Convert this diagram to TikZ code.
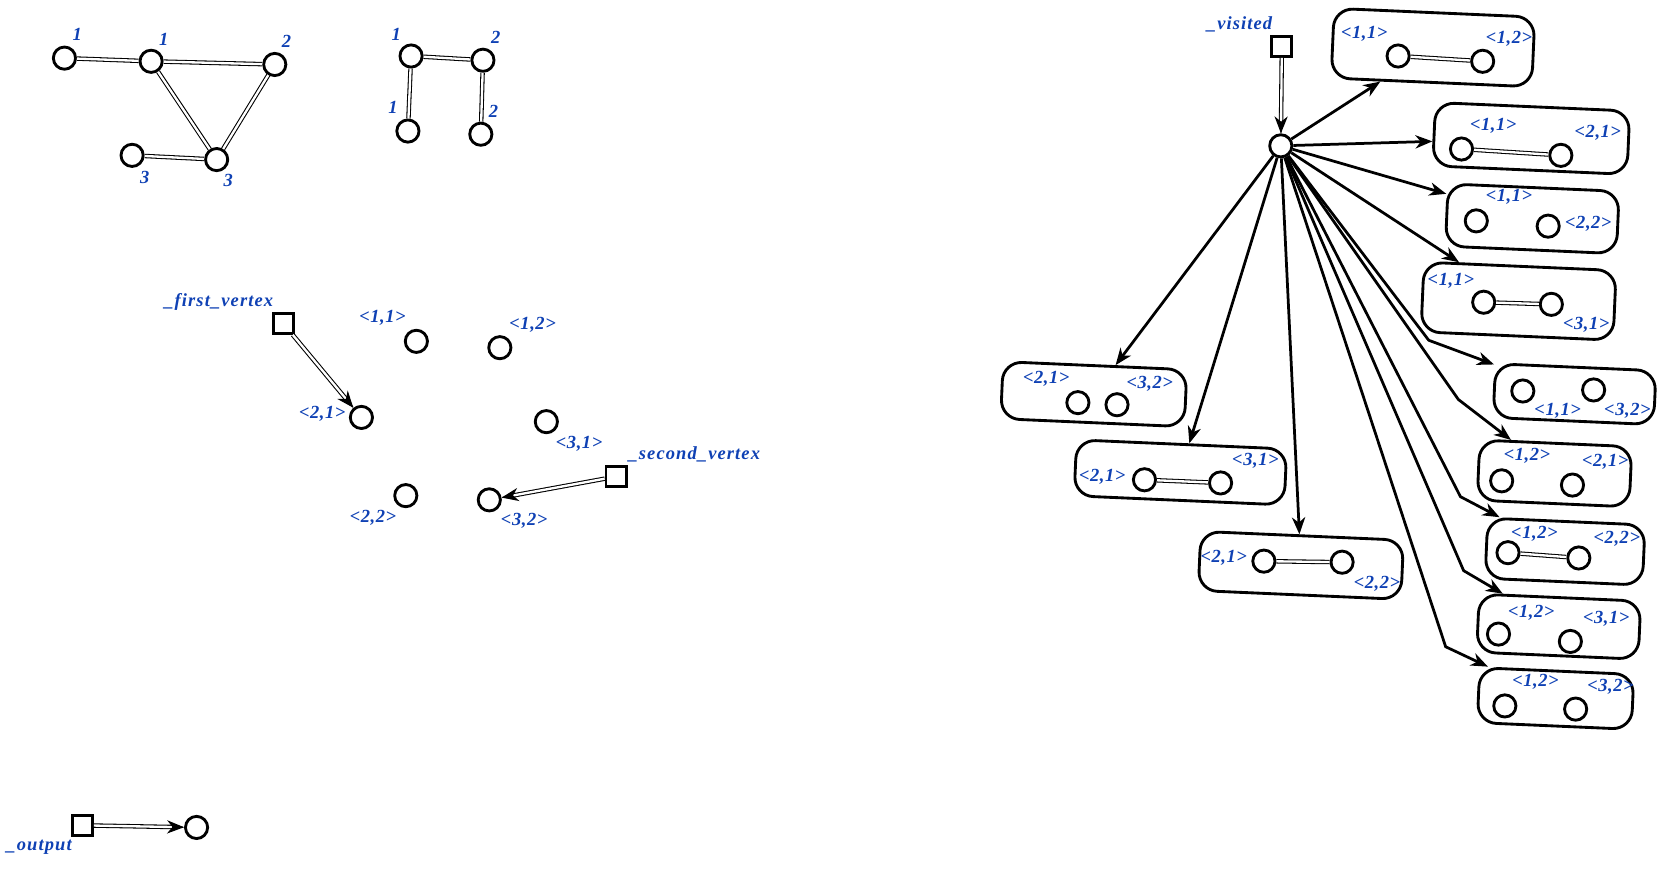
\documentclass[tikz,border=0pt]{standalone}
\usepackage{fontspec}
\setmainfont{Liberation Serif}
\newfontfamily\lblfont[LetterSpace=3]{Liberation Serif}
\newfontfamily\varfont[LetterSpace=6]{Liberation Serif}
\usetikzlibrary{arrows.meta}
\definecolor{lblue}{RGB}{15,65,180}
\begin{document}
\begin{tikzpicture}[x=1pt,y=-1pt,
  vtx/.style={circle, draw, line width=2.7pt, minimum size=21pt, inner sep=0pt},
  sq/.style={draw, line width=2.7pt, minimum size=19pt, inner sep=0pt},
  lbl/.style={text=lblue, font=\fontsize{17.5}{19}\lblfont\bfseries\itshape, inner sep=0pt},
  var/.style={text=lblue, font=\fontsize{17.5}{19}\varfont\bfseries\itshape, inner sep=0pt},
  dbl/.style={double, double distance=2.2pt, line width=1pt},
  arr/.style={-{Stealth[length=16pt,width=12.5pt,inset=5pt]}, line width=2.6pt},
  tip/.style={-{Stealth[length=16pt,width=12.5pt,inset=5pt]}, line width=1.2pt},
  box/.style={draw, line width=2.7pt, rounded corners=18pt, rotate=-2.5, inner sep=0pt},
]
\useasboundingbox (0,0) rectangle (1568,822);

% ---------- top-left graph ----------
\node[vtx] (a1) at (61,55) {};
\node[vtx] (b1) at (143,58) {};
\node[vtx] (c2) at (260,61) {};
\node[vtx] (d3) at (125,147) {};
\node[vtx] (e3) at (205,151) {};
\node[lbl] (la1) at (73,33) {1};
\node[lbl] (lb1) at (155,37) {1};
\node[lbl] (lc2) at (271,39) {2};
\node[lbl] (ld3) at (137,168) {3};
\node[lbl] (le3) at (216,171) {3};
\draw[dbl] (a1) -- (b1);
\draw[dbl] (b1) -- (c2);
\draw[dbl] (b1) -- (e3);
\draw[dbl] (c2) -- (e3);
\draw[dbl] (d3) -- (e3);

\node[vtx] (f1) at (389,53) {};
\node[vtx] (g2) at (457,57) {};
\node[vtx] (h1) at (386,124) {};
\node[vtx] (i2) at (455,127) {};
\node[lbl] (lf1) at (375,33) {1};
\node[lbl] (lg2) at (469,35) {2};
\node[lbl] (lh1) at (372,102) {1};
\node[lbl] (li2) at (467,105) {2};
\draw[dbl] (f1) -- (g2);
\draw[dbl] (f1) -- (h1);
\draw[dbl] (g2) -- (i2);

% ---------- middle ----------
\node[sq] (fv) at (268,306) {};
\node[var] (lfv) at (207,286) {\_first\_vertex};
\node[vtx] (m21) at (342,395) {};
\node[vtx] (m11) at (394,323) {};
\node[vtx] (m12) at (473,329) {};
\node[vtx] (m31) at (517,399) {};
\node[vtx] (m22) at (384,469) {};
\node[vtx] (m32) at (463,473) {};
\node[lbl] (lm21) at (305,392) {<2,1>};
\node[lbl] (lm11) at (362,301) {<1,1>};
\node[lbl] (lm12) at (504,307) {<1,2>};
\node[lbl] (lm31) at (548,420) {<3,1>};
\node[lbl] (lm22) at (353,490) {<2,2>};
\node[lbl] (lm32) at (496,493) {<3,2>};
\node[sq] (sv) at (583,451) {};
\node[var] (lsv) at (657,430) {\_second\_vertex};
\draw[dbl, shorten >=9pt] (fv) -- (m21) coordinate[pos=0.99] (fvt);
\draw[tip] (fvt) -- (m21);
\draw[dbl, shorten >=9pt] (sv) -- (m32) coordinate[pos=0.99] (svt);
\draw[tip] (svt) -- (m32);

% ---------- bottom-left ----------
\node[sq] (out) at (78,781) {};
\node[var] (lout) at (37,802) {\_output};
\node[vtx] (oc) at (186,783) {};
\draw[dbl, shorten >=9pt] (out) -- (oc) coordinate[pos=0.99] (outt);
\draw[tip] (outt) -- (oc);

% ---------- right ----------
\node[sq] (vis) at (1213,44) {};
\node[var] (lvis) at (1173,23) {\_visited};
\node[vtx] (hub) at (1212,138) {};
\draw[dbl, shorten >=9pt] (vis) -- (hub) coordinate[pos=0.99] (vist);
\draw[tip] (vist) -- (hub);

% boxes
\node[box, minimum width=190pt, minimum height=66pt] (bx1) at (1356,45) {};
\node[box, minimum width=184pt, minimum height=60pt] (bx2) at (1449,131) {};
\node[box, minimum width=162pt, minimum height=59pt] (bx3) at (1450,207) {};
\node[box, minimum width=182pt, minimum height=66pt] (bx4) at (1437,285) {};
\node[box, minimum width=152pt, minimum height=51pt] (bx5) at (1490,373) {};
\node[box, minimum width=144pt, minimum height=57pt] (bx6) at (1471,448) {};
\node[box, minimum width=149pt, minimum height=57pt] (bx7) at (1481,522) {};
\node[box, minimum width=153pt, minimum height=55pt] (bx8) at (1475,593) {};
\node[box, minimum width=146pt, minimum height=52pt] (bx9) at (1472,661) {};
\node[box, minimum width=174pt, minimum height=54pt] (bx10) at (1035,373) {};
\node[box, minimum width=199pt, minimum height=53pt] (bx11) at (1117,447) {};
\node[box, minimum width=192pt, minimum height=56pt] (bx12) at (1231,535) {};

% box contents
\node[vtx] (p1a) at (1323,53) {};  \node[vtx] (p1b) at (1403,58) {};
\draw[dbl] (p1a) -- (p1b);
\node[lbl] (q1a) at (1291,32) {<1,1>}; \node[lbl] (q1b) at (1428,37) {<1,2>};

\node[vtx] (p2a) at (1383,141) {}; \node[vtx] (p2b) at (1477,147) {};
\draw[dbl] (p2a) -- (p2b);
\node[lbl] (q2a) at (1413,119) {<1,1>}; \node[lbl] (q2b) at (1512,126) {<2,1>};

\node[vtx] (p3a) at (1397,209) {}; \node[vtx] (p3b) at (1465,214) {};
\node[lbl] (q3a) at (1428,186) {<1,1>}; \node[lbl] (q3b) at (1503,212) {<2,2>};

\node[vtx] (p4a) at (1404,286) {}; \node[vtx] (p4b) at (1468,288) {};
\draw[dbl] (p4a) -- (p4b);
\node[lbl] (q4a) at (1373,266) {<1,1>}; \node[lbl] (q4b) at (1501,307) {<3,1>};

\node[vtx] (p5a) at (1441,370) {}; \node[vtx] (p5b) at (1508,369) {};
\node[lbl] (q5a) at (1474,389) {<1,1>}; \node[lbl] (q5b) at (1540,389) {<3,2>};

\node[vtx] (p6a) at (1421,455) {}; \node[vtx] (p6b) at (1488,459) {};
\node[lbl] (q6a) at (1445,431) {<1,2>}; \node[lbl] (q6b) at (1519,437) {<2,1>};

\node[vtx] (p7a) at (1427,523) {}; \node[vtx] (p7b) at (1494,528) {};
\draw[dbl] (p7a) -- (p7b);
\node[lbl] (q7a) at (1452,505) {<1,2>}; \node[lbl] (q7b) at (1530,510) {<2,2>};

\node[vtx] (p8a) at (1418,600) {}; \node[vtx] (p8b) at (1486,607) {};
\node[lbl] (q8a) at (1449,580) {<1,2>}; \node[lbl] (q8b) at (1520,586) {<3,1>};

\node[vtx] (p9a) at (1424,668) {}; \node[vtx] (p9b) at (1491,671) {};
\node[lbl] (q9a) at (1453,645) {<1,2>}; \node[lbl] (q9b) at (1524,650) {<3,2>};

\node[vtx] (p10a) at (1020,381) {}; \node[vtx] (p10b) at (1057,383) {};
\node[lbl] (q10a) at (990,358) {<2,1>}; \node[lbl] (q10b) at (1088,363) {<3,2>};

\node[vtx] (p11a) at (1083,454) {}; \node[vtx] (p11b) at (1155,457) {};
\draw[dbl] (p11a) -- (p11b);
\node[lbl] (q11a) at (1043,451) {<2,1>}; \node[lbl] (q11b) at (1188,436) {<3,1>};

\node[vtx] (p12a) at (1196,531) {}; \node[vtx] (p12b) at (1270,532) {};
\draw[dbl] (p12a) -- (p12b);
\node[lbl] (q12a) at (1158,528) {<2,1>}; \node[lbl] (q12b) at (1303,552) {<2,2>};

% fan arrows
\coordinate (k5) at (1352,322);
\coordinate (k6) at (1380,378);
\coordinate (k7) at (1382,470);
\coordinate (k8) at (1385,540);
\coordinate (k9) at (1368,612);
\draw[arr] (hub) -- (bx1);
\draw[arr] (hub) -- (bx2);
\draw[arr] (hub) -- (bx3);
\draw[arr] (hub) -- (bx4);
\draw[arr] (hub) -- (k5) -- (bx5);
\draw[arr] (hub) -- (k6) -- (bx6);
\draw[arr] (hub) -- (k7) -- (bx7);
\draw[arr] (hub) -- (k8) -- (bx8);
\draw[arr] (hub) -- (k9) -- (bx9);
\draw[arr] (hub) -- (bx10);
\draw[arr] (hub) -- (bx11);
\draw[arr] (hub) -- (bx12);
\end{tikzpicture}
\end{document}
